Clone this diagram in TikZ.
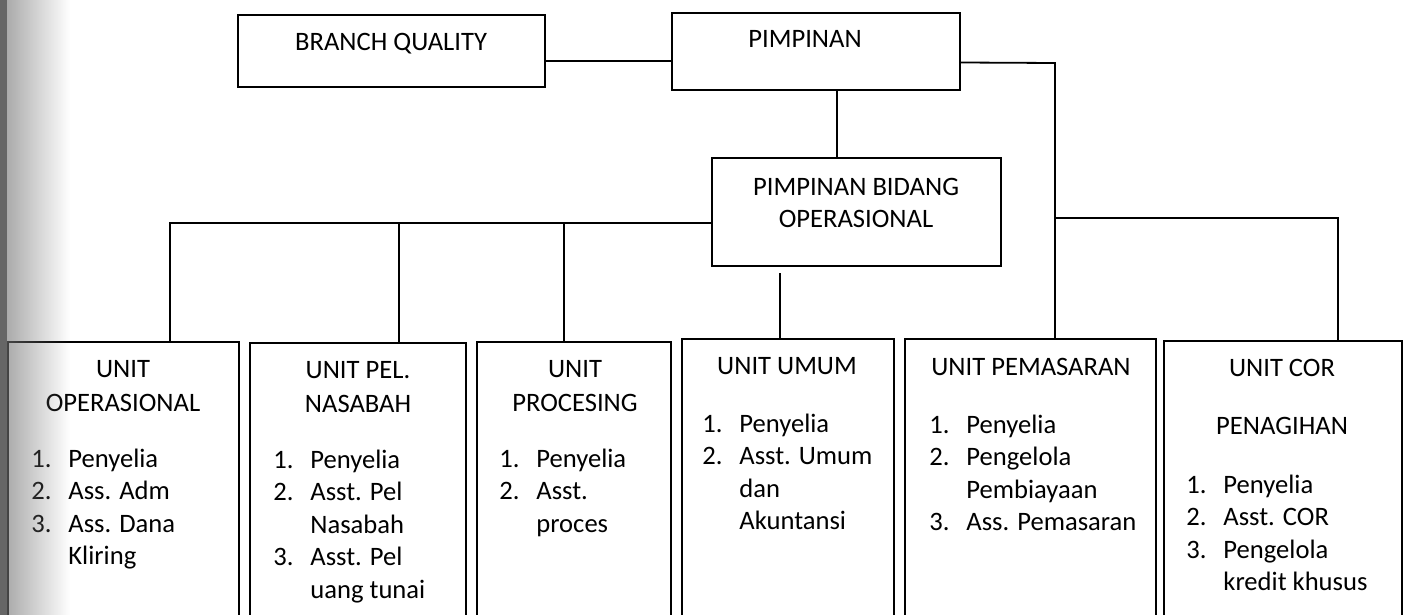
\documentclass[tikz,border=0pt]{standalone}
\usepackage{fontspec}
\setmainfont{Carlito}
\usetikzlibrary{positioning,fit,fadings}

\newcommand{\itm}[2]{\makebox[18.5pt][l]{#1}#2}
\newcommand{\cnt}[1]{\hspace*{18.5pt}#1}
\newcommand{\lines}[1]{\begin{tabular}[t]{@{}c@{}}#1\end{tabular}}
\newcommand{\tasks}[1]{\begin{tabular}[t]{@{}l@{}}#1\end{tabular}}

\begin{document}
\begin{tikzpicture}[
  x=0.5pt, y=-0.5pt,
  every node/.style={font=\fontsize{13.3pt}{16.3pt}\selectfont, inner sep=0pt},
  box/.style={draw, line width=0.9pt},
  title/.style={anchor=base},
  items/.style={anchor=base west},
  conn/.style={line width=0.9pt}
]
\useasboundingbox (0,0) rectangle (1407,615);

% top
\node[box, fit={(238,15) (545,87)}] (bq) {};
\node[title] (bqt) at (391,51) {BRANCH QUALITY};
\node[box, fit={(672,13) (960,90)}] (pim) {};
\node[title] (pimt) at (805,48) {PIMPINAN};
\node[box, fit={(712,158) (1001,266)}] (pbo) {};
\node[title] (pbot) at (856,195) {\lines{PIMPINAN BIDANG\\OPERASIONAL}};

% units
\node[box, fit={(8,342) (239,625)}] (uop) {};
\node[title] (uopt) at (123,377) {\lines{UNIT\\[0.7pt]OPERASIONAL}};
\node[items] (uopl) at (31,467) {\tasks{\itm{1.}{Penyelia}\\\itm{2.}{Ass. Adm}\\\itm{3.}{Ass. Dana}\\\cnt{Kliring}}};

\node[box, fit={(250,343) (466,625)}] (upn) {};
\node[title] (upnt) at (358,378) {\lines{UNIT PEL.\\[0.7pt]NASABAH}};
\node[items] (upnl) at (273,468) {\tasks{\itm{1.}{Penyelia}\\\itm{2.}{Asst. Pel}\\\cnt{Nasabah}\\\itm{3.}{Asst. Pel}\\\cnt{uang tunai}}};

\node[box, fit={(477,342) (671,625)}] (upr) {};
\node[title] (uprt) at (575,377) {\lines{UNIT\\[0.7pt]PROCESING}};
\node[items] (uprl) at (499,467) {\tasks{\itm{1.}{Penyelia}\\\itm{2.}{Asst.}\\\cnt{proces}}};

\node[box, fit={(682,339) (894,625)}] (uum) {};
\node[title] (uumt) at (787,374) {UNIT UMUM};
\node[items] (uuml) at (702,432) {\tasks{\itm{1.}{Penyelia}\\\itm{2.}{Asst. Umum}\\\cnt{dan}\\\cnt{Akuntansi}}};

\node[box, fit={(905,339) (1156,625)}] (upm) {};
\node[title] (upmt) at (1031,375) {UNIT PEMASARAN};
\node[items] (upml) at (929,433) {\tasks{\itm{1.}{Penyelia}\\\itm{2.}{Pengelola}\\\cnt{Pembiayaan}\\\itm{3.}{Ass. Pemasaran}}};

\node[box, fit={(1164,341) (1402,625)}] (ucr) {};
\node[title] (ucrt) at (1282,376) {\lines{UNIT COR\\[13pt]PENAGIHAN}};
\node[items] (ucrl) at (1186,493) {\tasks{\itm{1.}{Penyelia}\\\itm{2.}{Asst. COR}\\\itm{3.}{Pengelola}\\\cnt{kredit khusus}}};

% junctions
\coordinate (mid) at (837,0);
\coordinate (jr) at (1055,63);
\coordinate (dl) at (170,223);
\coordinate (d2) at (399,223);
\coordinate (d3) at (564,223);
\coordinate (d4) at (780,273);
\coordinate (d6) at (1338,218);

\draw[conn] ([yshift=-5pt]bq.east) -- ([yshift=-5pt]bq.east -| pim.west);
\draw[conn] ([yshift=-5.5pt]pim.east) -- (jr) -- (jr |- upm.north);
\draw[conn] (pim.south -| mid) -- (pbo.north -| mid);
\draw[conn] ([yshift=-5.5pt]pbo.west) -| (uop.north -| dl);
\draw[conn] (d2) -- (d2 |- upn.north);
\draw[conn] (d3) -- (d3 |- upr.north);
\draw[conn] (d4) -- (d4 |- uum.north);
\draw[conn] (d6 -| jr) -- (d6) -- (d6 |- ucr.north);

% scan shadow
\fill[black!55, path fading=east] (-35,0) rectangle (70,615);
\fill[black!60] (0,0) rectangle (7,615);
\end{tikzpicture}
\end{document}
